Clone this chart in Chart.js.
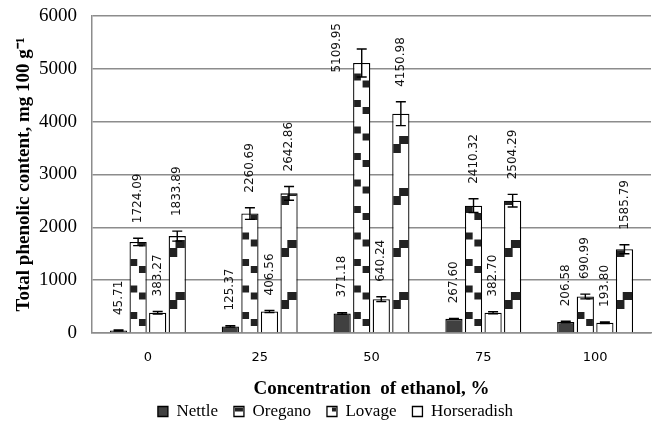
<!DOCTYPE html>
<html>
<head>
<meta charset="utf-8">
<script src="https://cdn.jsdelivr.net/npm/chart.js@4.4.1/dist/chart.umd.min.js"></script>
<style>
  html, body { margin: 0; padding: 0; background: #fff; }
</style>
</head>
<body>
<canvas id="chart" width="658" height="430"></canvas>
<script>
// categories (ethanol concentration, %)
const categories = ["0", "25", "50", "75", "100"];

// mean values, mg 100 g-1
const nettle = [45.71, 125.37, 371.18, 267.60, 206.58];
const oregano = [1724.09, 2260.69, 5109.95, 2410.32, 690.99];
const lovage = [383.27, 406.56, 640.24, 382.70, 193.80];
const horseradish = [1833.89, 2642.86, 4150.98, 2504.29, 1585.79];

// error bars
const nettleErr = [10, 15, 15, 10, 15];
const oreganoErr = [70, 110, 265, 130, 45];
const lovageErr = [25, 20, 45, 20, 15];
const horseradishErr = [95, 130, 225, 120, 85];

// y axis ticks
const yTicks = [0, 1000, 2000, 3000, 4000, 5000, 6000];

const dark = "#222";

// patterns, error bars and value labels, drawn on the bar elements
const overlay = {
  id: "overlay",
  afterDatasetsDraw(chart) {
    const ctx = chart.ctx;
    const area = chart.chartArea;
    const y = chart.scales.y;
    const b = area.bottom;
    const labels = [];

    chart.data.datasets.forEach((ds, i) => {
      const meta = chart.getDatasetMeta(i);
      meta.data.forEach((bar, j) => {
        const p = bar.getProps(["x", "y", "base", "width"], true);
        const left = p.x - p.width / 2;
        const right = p.x + p.width / 2;
        const w = p.width;

        // fill pattern
        ctx.save();
        ctx.beginPath();
        ctx.rect(left + 1, p.y + 1, w - 2, p.base - p.y - 2);
        ctx.clip();
        ctx.fillStyle = dark;
        if (ds.pattern === "small") {
          for (let k = 0; b - k * 26.5 > area.top - 30; k++) {
            const o = b - k * 26.5;
            ctx.fillRect(right - w * 0.45, o - 14, w * 0.45, 7);
            ctx.fillRect(left, o - 21, w * 0.45, 7);
          }
        } else if (ds.pattern === "large") {
          for (let k = 0; b - k * 52 > area.top - 60; k++) {
            const o = b - k * 52;
            ctx.fillRect(right - w * 0.6, o - 41, w * 0.6, 8);
            ctx.fillRect(left, o - 33, w * 0.5, 9);
          }
        }
        ctx.restore();

        // error bar
        const v = ds.data[j];
        const e = ds.errors[j];
        const yHi = y.getPixelForValue(v + e);
        const yLo = y.getPixelForValue(v - e);
        ctx.save();
        ctx.strokeStyle = "#000";
        ctx.lineWidth = 1.4;
        ctx.beginPath();
        ctx.moveTo(p.x, yHi);
        ctx.lineTo(p.x, yLo);
        ctx.moveTo(p.x - 5, yHi);
        ctx.lineTo(p.x + 5, yHi);
        ctx.moveTo(p.x - 5, yLo);
        ctx.lineTo(p.x + 5, yLo);
        ctx.stroke();
        ctx.restore();

        labels.push({ x: p.x, w: w, top: yHi, text: v.toFixed(2) });
      });
    });

    // rotated value labels
    ctx.save();
    ctx.font = '12px "DejaVu Sans"';
    ctx.fillStyle = "#111";
    ctx.textAlign = "left";
    ctx.textBaseline = "middle";
    labels.forEach((l) => {
      const tw = ctx.measureText(l.text).width;
      let x = l.x;
      let start = l.top - 15;
      if (start - tw < area.top + 7) {
        start = area.top + 7 + tw;
        x = l.x - l.w * 1.45;
      }
      ctx.save();
      ctx.translate(x, start);
      ctx.rotate(-Math.PI / 2);
      ctx.fillText(l.text, 0, 0);
      ctx.restore();
    });
    ctx.restore();
  },
  afterDraw(chart) {
    // legend symbols
    const ctx = chart.ctx;
    const boxes = chart.legend.legendHitBoxes;
    const fs = 17;
    chart.data.datasets.forEach((ds, i) => {
      const hb = boxes[i];
      if (!hb) return;
      const bx = hb.left;
      const by = hb.top + Math.max((fs - 10) / 2, 0);
      ctx.save();
      ctx.fillStyle = dark;
      if (ds.pattern === "small") {
        ctx.fillRect(bx + 1, by + 1, 8, 4);
      } else if (ds.pattern === "lovage") {
        ctx.fillRect(bx + 5, by + 1, 4, 4);
      }
      ctx.restore();
    });
  }
};

const ctx = document.getElementById("chart").getContext("2d");

new Chart(ctx, {
  type: "bar",
  data: {
    labels: categories,
    datasets: [
      {
        label: "Nettle",
        data: nettle,
        errors: nettleErr,
        pattern: "none",
        backgroundColor: "#404040",
        borderColor: "#000",
        borderWidth: 1.3
      },
      {
        label: "Oregano",
        data: oregano,
        errors: oreganoErr,
        pattern: "small",
        backgroundColor: "#fff",
        borderColor: "#000",
        borderWidth: 1.3
      },
      {
        label: "Lovage",
        data: lovage,
        errors: lovageErr,
        pattern: "lovage",
        backgroundColor: "#fff",
        borderColor: "#000",
        borderWidth: 1.3
      },
      {
        label: "Horseradish",
        data: horseradish,
        errors: horseradishErr,
        pattern: "large",
        backgroundColor: "#fff",
        borderColor: "#000",
        borderWidth: 1.3
      }
    ]
  },
  options: {
    responsive: false,
    animation: false,
    layout: { padding: { top: 16, right: 7, left: 20, bottom: 0 } },
    categoryPercentage: 0.7,
    barPercentage: 0.88,
    plugins: {
      tooltip: { enabled: false },
      legend: {
        position: "bottom",
        labels: {
          boxWidth: 10,
          boxHeight: 10,
          padding: 16,
          color: "#000",
          font: { family: '"Liberation Serif"', size: 17 }
        }
      }
    },
    scales: {
      x: {
        grid: { display: false, drawTicks: false },
        border: { display: true, color: "#8c8c8c", width: 1.5 },
        ticks: {
          padding: 17,
          color: "#000",
          font: { family: '"DejaVu Sans"', size: 13 }
        },
        title: {
          display: true,
          text: "Concentration  of ethanol, %",
          color: "#000",
          font: { family: '"Liberation Serif"', size: 19, weight: "bold" },
          padding: { top: 0, bottom: -13.4 }
        },
        afterFit: (s) => { s.height = 54; s.paddingLeft = 0; s.paddingRight = 0; }
      },
      y: {
        min: 0,
        max: 6000,
        afterBuildTicks: (s) => { s.ticks = yTicks.map((v) => ({ value: v })); },
        grid: { color: "#8c8c8c", lineWidth: 1.5, drawTicks: false },
        border: { display: true, color: "#8c8c8c", width: 1.5 },
        ticks: {
          padding: 15,
          color: "#000",
          font: { family: '"Liberation Serif"', size: 19 },
          callback: (v) => String(v)
        },
        title: {
          display: true,
          text: "Total phenolic content, mg 100 g\u207B\u00B9",
          color: "#000",
          font: { family: '"Liberation Serif"', size: 19, weight: "bold" },
          padding: { top: -7.4, bottom: 0 }
        },
        afterFit: (s) => { s.width = 72; s.paddingTop = 0; s.paddingBottom = 0; }
      }
    }
  },
  plugins: [overlay]
});
</script>
</body>
</html>
